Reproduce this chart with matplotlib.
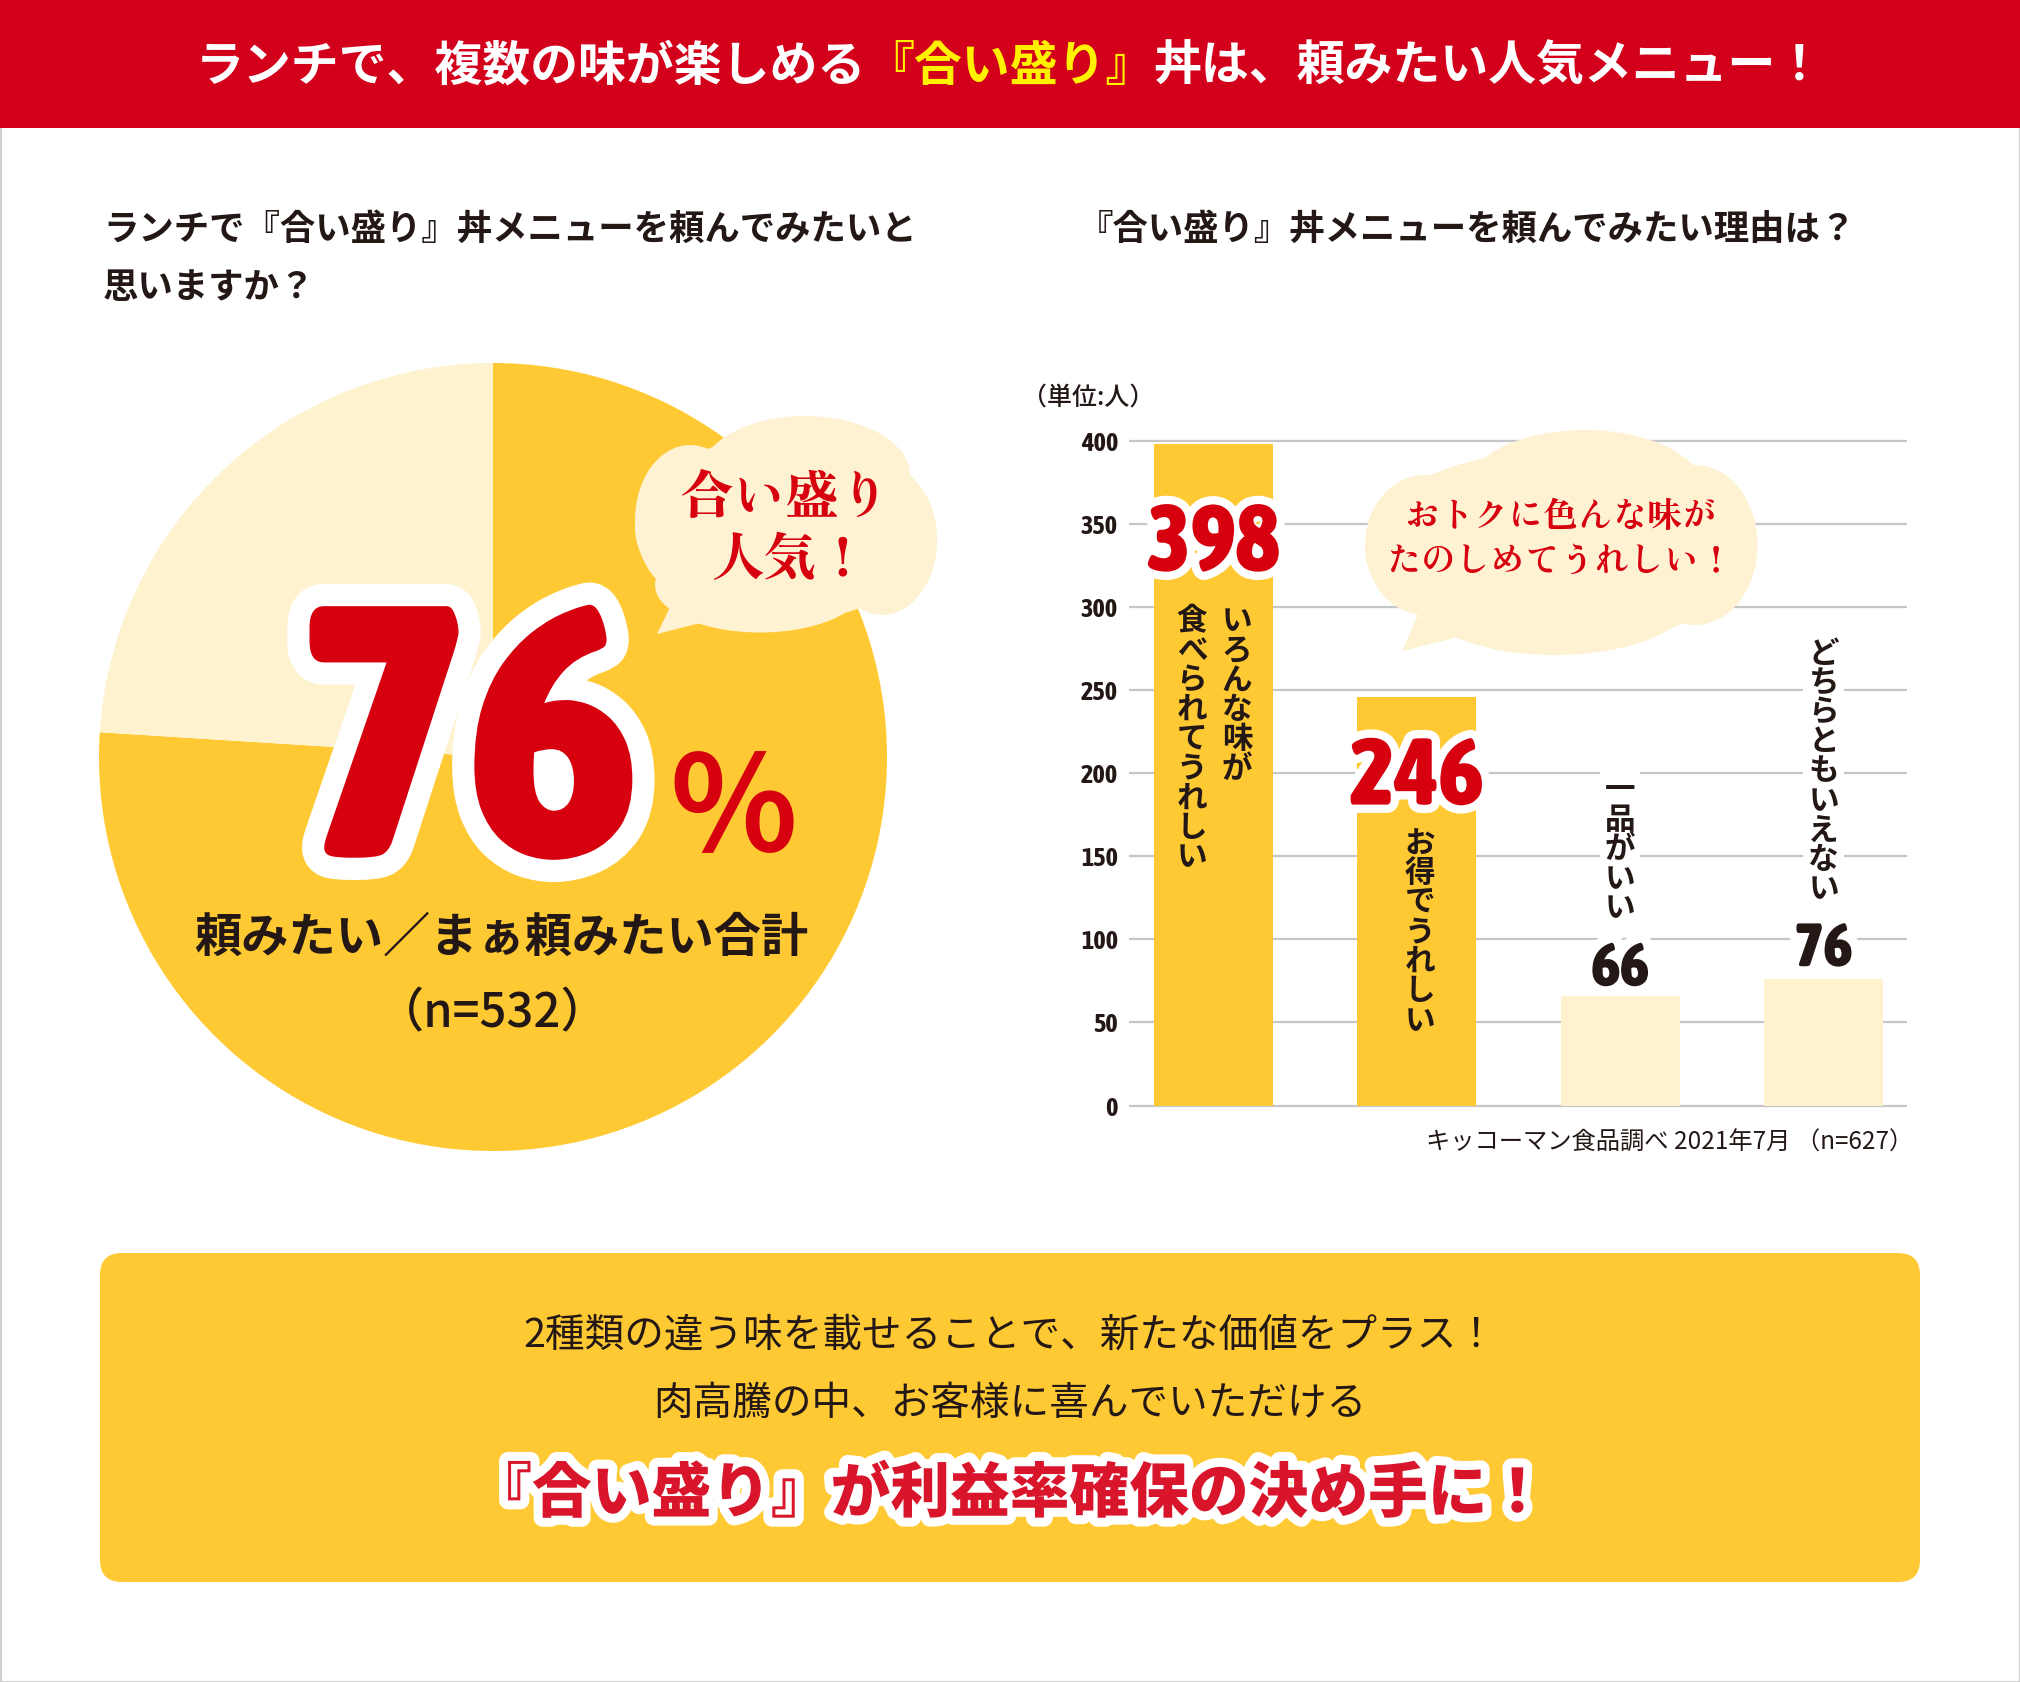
import numpy as np
import matplotlib
matplotlib.use("Agg")
import matplotlib.pyplot as plt
import matplotlib.patheffects as pe
from matplotlib.patches import Rectangle, FancyBboxPatch, Ellipse, Polygon
from matplotlib.offsetbox import TextArea, HPacker, AnnotationBbox

# ---------------- data ----------------
title_parts = ["ランチで、複数の味が楽しめる", "『合い盛り』", "丼は、頼みたい人気メニュー！"]
pie_title_lines = ["ランチで『合い盛り』丼メニューを頼んでみたいと", "思いますか？"]
bar_title = "『合い盛り』丼メニューを頼んでみたい理由は？"
pie_labels = ["頼みたい／まぁ頼みたい", "その他"]
pie_values = [76, 24]
pie_big = "76"
pie_total_label = "頼みたい／まぁ頼みたい合計"
pie_n = "（n=532）"
pie_bubble = ["合い盛り", "人気！"]
bar_categories = [["いろんな味が", "食べられてうれしい"], ["お得でうれしい"], ["一品がいい"], ["どちらともいえない"]]
bar_values = [398, 246, 66, 76]
y_ticks = [0, 50, 100, 150, 200, 250, 300, 350, 400]
unit_label = "（単位:人）"
source_note = "キッコーマン食品調べ 2021年7月 （n=627）"
bar_bubble = ["おトクに色んな味が", "たのしめてうれしい！"]
box_lines = ["2種類の違う味を載せることで、新たな価値をプラス！", "肉高騰の中、お客様に喜んでいただける"]
box_headline = "『合い盛り』が利益率確保の決め手に！"

# ---------------- style ----------------
W, H = 2020, 1682
JP = ['Noto Sans CJK JP', 'DejaVu Sans']
MINCHO = ['Zen Old Mincho', 'Noto Sans CJK JP', 'DejaVu Sans']
NUM = ['Asap Condensed', 'Roboto', 'DejaVu Sans']
plt.rcParams['font.family'] = JP
RED_BAND = '#D2001A'
YEL_TXT = '#FFF100'
DARK = '#FFC933'
LIGHT = '#FFF2CF'
CLOUD = '#FFF2D2'
TXT = '#231815'
RED = '#D7000F'
RED2 = '#D9152B'

fig = plt.figure(figsize=(W / 100, H / 100), dpi=100, facecolor='white')

# ---------------- pie ----------------
pcx, pcy, pr = 493, 757, 394
axp = fig.add_axes([(pcx - pr) / W, (H - pcy - pr) / H, 2 * pr / W, 2 * pr / H])
axp.pie(pie_values, colors=[DARK, LIGHT], startangle=90, counterclock=False,
        radius=1, wedgeprops=dict(linewidth=0))
axp.set_xlim(-1, 1)
axp.set_ylim(-1, 1)
axp.axis('off')

# ---------------- bars ----------------
y0px, y400px = 1105.5, 440.6
ppu = (y0px - y400px) / 400
ylo, yhi = -2, 402
bot_px = y0px - ylo * ppu
top_px = y400px - (yhi - 400) * ppu
axb = fig.add_axes([1129 / W, (H - bot_px) / H, (1907 - 1129) / W, (bot_px - top_px) / H])
xpos = np.arange(len(bar_values))
axb.bar(xpos, bar_values, width=0.585, color=[DARK, DARK, LIGHT, LIGHT], zorder=3)
axb.set_xlim(-0.415, 3.41)
axb.set_ylim(ylo, yhi)
axb.set_yticks(y_ticks)
axb.set_xticks([])
axb.grid(axis='y', color='#C6C6C6', linewidth=1.6, zorder=0)
axb.set_axisbelow(True)
for s in axb.spines.values():
    s.set_visible(False)
axb.tick_params(axis='y', length=0, pad=8, labelsize=19, labelcolor=TXT)
for t in axb.get_yticklabels():
    t.set_fontweight('bold')
    t.set_family(NUM)
    t.set_fontstyle('normal')
axb.patch.set_alpha(0)

# ---------------- overlay (pixel coords, y down) ----------------
ax = fig.add_axes([0, 0, 1, 1], zorder=10)
ax.set_xlim(0, W)
ax.set_ylim(H, 0)
ax.axis('off')
ax.patch.set_alpha(0)

ax.add_patch(Rectangle((0.5, 0.5), W - 1, H - 1, fill=False, ec='#CFCFCF', lw=1.5, zorder=0))
ax.add_patch(Rectangle((0, 0), W, 128, fc=RED_BAND, ec='none', zorder=1))

tp = dict(fontsize=34.5, fontweight='bold', family=JP)
children = [TextArea(title_parts[0], textprops=dict(color='white', **tp)),
            TextArea(title_parts[1], textprops=dict(color=YEL_TXT, **tp)),
            TextArea(title_parts[2], textprops=dict(color='white', **tp))]
hp = HPacker(children=children, align='baseline', pad=0, sep=0)
ab = AnnotationBbox(hp, (W / 2, 66), xycoords='data', frameon=False, box_alignment=(0.5, 0.5), pad=0)
ax.add_artist(ab)

# section titles
ax.text(103, 229, pie_title_lines[0], fontsize=25.5, fontweight='bold', color=TXT, ha='left', va='center')
ax.text(103, 287, pie_title_lines[1], fontsize=25.5, fontweight='bold', color=TXT, ha='left', va='center')
ax.text(1078, 229, bar_title, fontsize=25.5, fontweight='bold', color=TXT, ha='left', va='center')


def cloud(parts, tail, z=3):
    for (cx, cy, w, h) in parts:
        ax.add_patch(Ellipse((cx, cy), w, h, fc=CLOUD, ec='none', zorder=z))
    ax.add_patch(Polygon(tail, closed=True, fc=CLOUD, ec='none', zorder=z))


# pie bubble
cloud([(785, 528, 300, 185), (805, 475, 210, 118), (882, 540, 110, 150),
       (760, 585, 210, 95), (690, 520, 110, 150)],
      [(676, 595), (712, 620), (657, 634)])
ax.text(786, 500, pie_bubble[0], fontsize=38, fontweight='black', family=MINCHO, color=RED,
        ha='center', va='center', zorder=6)
ax.text(790, 562, pie_bubble[1], fontsize=38, fontweight='black', family=MINCHO, color=RED,
        ha='center', va='center', zorder=6)

# big 76 %
ax.text(469, 857, pie_big, fontsize=258, fontweight='black', fontstyle='normal', family=NUM, color=RED,
        ha='center', va='baseline', zorder=5,
        path_effects=[pe.Stroke(linewidth=32, foreground='white', joinstyle='round'), pe.Normal()])
ax.text(733, 852, "％", fontsize=95, fontweight='bold', color=RED, ha='center', va='baseline', zorder=5)
ax.text(501, 938, pie_total_label, fontsize=34, fontweight='bold', color=TXT, ha='center', va='center', zorder=5)
ax.text(493, 1014, pie_n, fontsize=34, fontweight='medium', color=TXT, ha='center', va='center', zorder=5)


def px(x, y):
    dx, dy = axb.transData.transform((x, y))
    return dx, H - dy


def vtext(x, ytop, s, pitch=29.5, size=22, bg=None):
    em = size * 100 / 72
    if bg:
        ax.add_patch(Rectangle((x - em / 2 - 5, ytop - 4), em + 10, pitch * len(s) + 8,
                               fc=bg, ec='none', zorder=4))
    for i, ch in enumerate(s):
        cy = ytop + pitch * (i + 0.5)
        ax.text(x, cy + 0.38 * em, ch, fontsize=size, fontweight='bold', color=TXT,
                ha='center', va='baseline', zorder=5)


# bar value labels & category labels
outline = [pe.Stroke(linewidth=12, foreground='white', joinstyle='round'), pe.Normal()]
white_halo = [pe.Stroke(linewidth=14, foreground='white', joinstyle='round'), pe.Normal()]
numkw = dict(fontweight='black', fontstyle='normal', family=NUM, ha='center', va='baseline', zorder=5)
# bar 1
bx, btop = px(0, bar_values[0])
ax.text(bx, btop + 127, str(bar_values[0]), fontsize=68, color=RED, path_effects=outline, **numkw)
vtext(bx + 23.5, btop + 160, bar_categories[0][0])
vtext(bx - 21.5, btop + 160, bar_categories[0][1])
# bar 2
bx, btop = px(1, bar_values[1])
ax.text(bx, btop + 108, str(bar_values[1]), fontsize=68, color=RED, path_effects=outline, **numkw)
vtext(bx + 3, btop + 130, bar_categories[1][0])
# bar 3
bx, btop = px(2, bar_values[2])
ax.text(bx, btop - 10, str(bar_values[2]), fontsize=44, color=TXT, path_effects=white_halo, **numkw)
vtext(bx, btop - 223, bar_categories[2][0], bg='white')
# bar 4
bx, btop = px(3, bar_values[3])
ax.text(bx, btop - 13, str(bar_values[3]), fontsize=44, color=TXT, path_effects=white_halo, **numkw)
vtext(bx, btop - 343, bar_categories[3][0], bg='white')

# bar bubble
cloud([(1560, 548, 390, 195), (1585, 492, 240, 124), (1555, 600, 270, 110),
       (1425, 545, 120, 140), (1695, 545, 125, 160)],
      [(1418, 615), (1462, 636), (1402, 651)])
ax.text(1561, 518, bar_bubble[0], fontsize=25, fontweight='black', family=MINCHO, color=RED,
        ha='center', va='center', zorder=6)
ax.text(1561, 563, bar_bubble[1], fontsize=25, fontweight='black', family=MINCHO, color=RED,
        ha='center', va='center', zorder=6)

ax.text(1022, 398, unit_label, fontsize=18, fontweight='medium', color=TXT, ha='left', va='center')
ax.text(1913, 1143, source_note, fontsize=17.5, color=TXT, ha='right', va='center')

# bottom box
ax.add_patch(FancyBboxPatch((100, 1253), 1820, 329, boxstyle='round,pad=0,rounding_size=22',
                            fc=DARK, ec='none', zorder=1))
ax.text(1010, 1336, box_lines[0], fontsize=28.5, color=TXT, ha='center', va='center', zorder=3)
ax.text(1010, 1404, box_lines[1], fontsize=28.5, color=TXT, ha='center', va='center', zorder=3)
ax.text(1010, 1494, box_headline, fontsize=43, fontweight='black', color=RED2, ha='center', va='center',
        zorder=3, path_effects=[pe.Stroke(linewidth=13, foreground='white', joinstyle='round'), pe.Normal()])

fig.savefig('out.png', dpi=100, facecolor='white')
